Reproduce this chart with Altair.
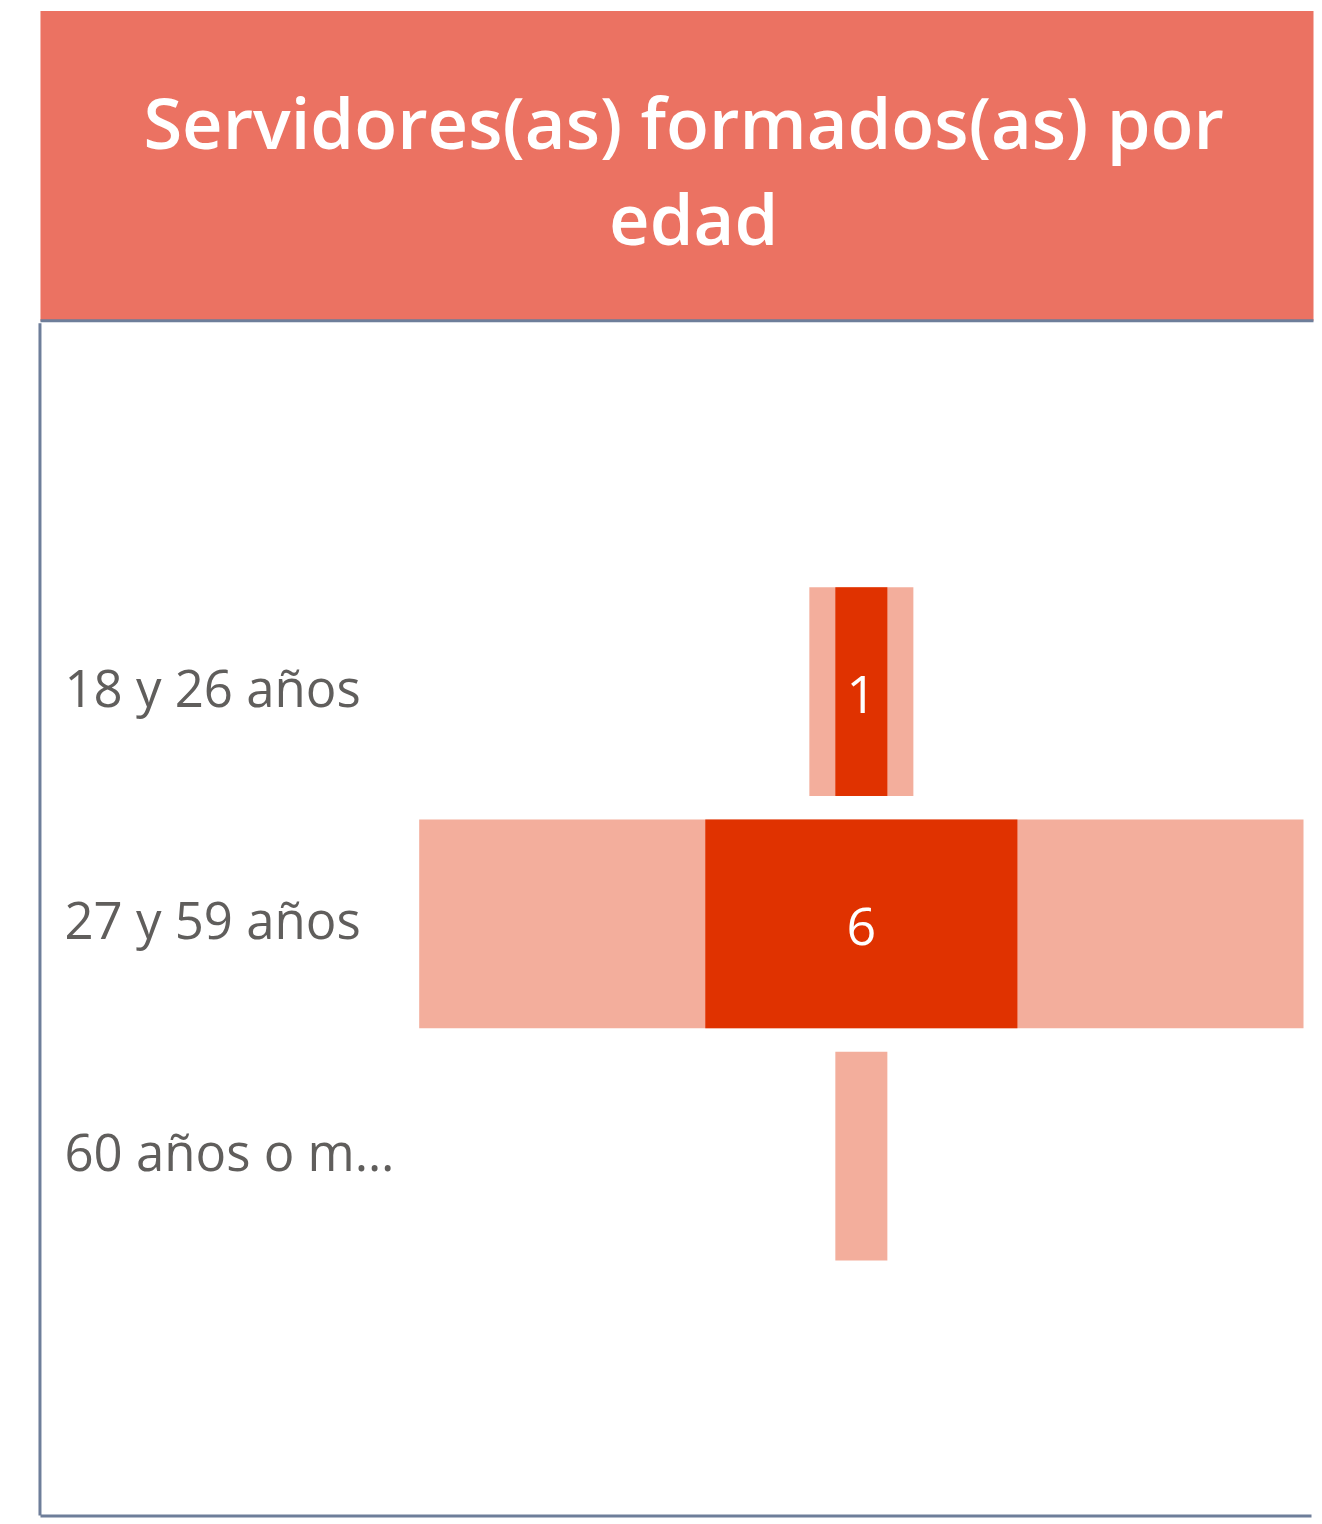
import altair as alt
import pandas as pd

# ---- data ----
categorias = ["18 y 26 años", "27 y 59 años", "60 años o más"]
total = [2, 17, 1]
formados = [1, 6, 0]
titulo_l1 = "Servidores(as) formados(as) por"
titulo_l2 = "edad"

BORDER = "#6E7E9A"
BANNER = "#EB7262"
LIGHT = "#F3AE9C"
DARK = "#E03200"
GRAY = "#605E5C"
FONT = "Open Sans"

FW = 1272   # funnel plot width
FH = 1193   # funnel plot height
XDOM = [-15.79, 8.644]

df = pd.DataFrame({"cat": categorias, "total": total, "formados": formados})

# ---- banner ----
banner_df = pd.DataFrame({"pos": [0], "l1": [titulo_l1], "l2": [titulo_l2]})
tbase = alt.Chart(banner_df)
tstyle = dict(font=FONT, fontSize=70.5, fontWeight=600, color="white",
              baseline="alphabetic", align="center")
line1 = tbase.mark_text(dx=-10, **tstyle).encode(
    x=alt.X("pos:Q", scale=alt.Scale(domain=[-1.027, 0.973]),
            axis=alt.Axis(title=None, labels=False, ticks=False, grid=False,
                          domain=True, domainColor=BORDER, domainWidth=3)),
    y=alt.value(139),
    text="l1:N",
)
line2 = tbase.mark_text(**tstyle).encode(
    x=alt.X("pos:Q", scale=alt.Scale(domain=[-1.027, 0.973])),
    y=alt.value(235),
    text="l2:N",
)
banner = alt.layer(line1, line2).properties(
    width=1274, height=310,
    view=alt.ViewBackground(fill=BANNER, stroke="transparent"),
)

# ---- funnel ----
xscale = alt.Scale(domain=XDOM, nice=False, zero=False)
yscale = alt.Scale(domain=categorias, paddingInner=0.101, paddingOuter=0,
                   range=[264, 938])

base = alt.Chart(df).transform_calculate(
    tlo="-datum.total/2", thi="datum.total/2",
    flo="-datum.formados/2", fhi="datum.formados/2",
)

yenc = alt.Y("cat:N", scale=yscale, sort=categorias,
             axis=alt.Axis(title=None, orient="left", ticks=False, tickSize=0,
                           labelPadding=-24, labelAlign="left", labelBaseline="middle",
                           labelFont=FONT, labelFontSize=51, labelColor=GRAY,
                           labelLimit=340, domain=False, grid=False))

xaxis = alt.Axis(title=None, labels=False, ticks=False, grid=False,
                 domain=True, domainColor=BORDER, domainWidth=3)

light = base.mark_bar(color=LIGHT).encode(
    x=alt.X("tlo:Q", scale=xscale, axis=xaxis), x2="thi:Q", y=yenc)

dark = base.transform_filter("datum.formados > 0").mark_bar(color=DARK).encode(
    x=alt.X("flo:Q", scale=xscale), x2="fhi:Q",
    y=alt.Y("cat:N", scale=yscale, sort=categorias))

labels = base.transform_filter("datum.formados > 0").transform_calculate(
    mid="0").mark_text(font=FONT, fontSize=52, color="white", baseline="middle",
                       align="center", dy=5).encode(
    x=alt.X("mid:Q", scale=xscale),
    y=alt.Y("cat:N", scale=yscale, sort=categorias),
    text="formados:Q")

# left border of the box, placed at the left end of the x domain
leftedge = base.transform_aggregate(n="count()").transform_calculate(
    lo=str(XDOM[0])).mark_rule(color=BORDER, strokeWidth=3).encode(
    x=alt.X("lo:Q", scale=xscale), y=alt.value(0), y2=alt.value(FH))

funnel = alt.layer(light, dark, labels, leftedge).properties(
    width=FW, height=FH,
    view=alt.ViewBackground(fill="white", stroke="transparent"),
)

chart = alt.vconcat(banner, funnel, spacing=0).properties(
    padding={"left": 30, "top": 1, "right": 0, "bottom": 0}
).configure_view(stroke="transparent").configure_concat(spacing=0)

chart.save("out.html", embed_options={"renderer": "svg", "actions": False})
